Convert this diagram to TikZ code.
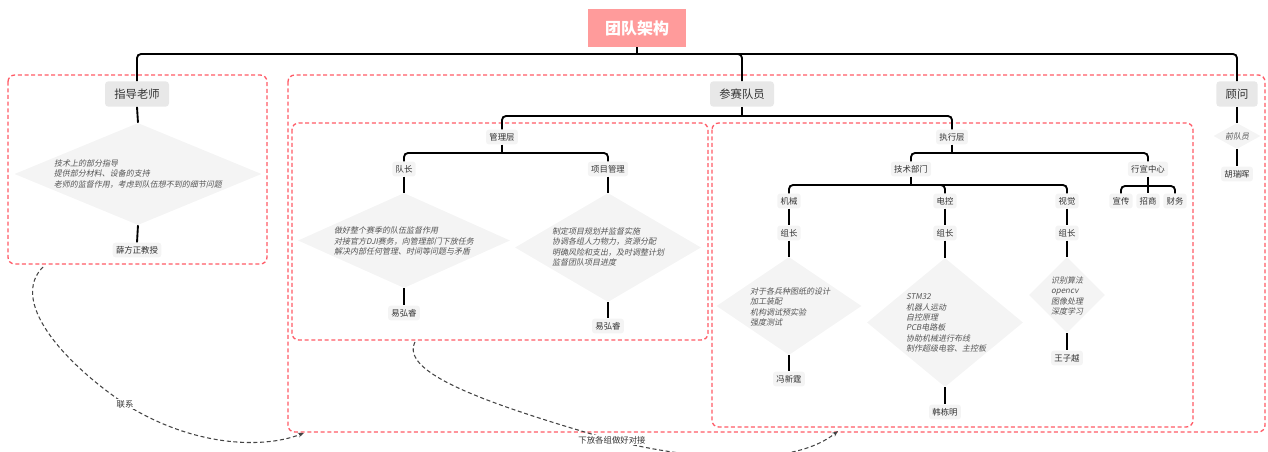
\documentclass[tikz,border=0pt]{standalone}
\usepackage{fontspec}
\setmainfont{Noto Sans CJK SC}
\newfontfamily\cjkit[FakeSlant=0.2]{Noto Sans CJK SC}
\usetikzlibrary{shapes.geometric,arrows.meta}
\definecolor{rootfill}{HTML}{FF9B9B}
\definecolor{headfill}{HTML}{E8E8E8}
\definecolor{lblfill}{HTML}{F4F4F4}
\definecolor{diafill}{HTML}{F4F4F4}
\definecolor{textc}{HTML}{333333}
\definecolor{dtextc}{HTML}{555555}
\definecolor{grpred}{HTML}{FF5A66}
\definecolor{linkc}{HTML}{444444}
\begin{document}
\begin{tikzpicture}[x=0.75pt,y=-0.75pt,
  rootbox/.style={fill=rootfill, text=white, minimum width=73.5pt, minimum height=28.5pt, inner sep=0pt, font=\fontsize{12}{14}\selectfont\bfseries},
  head/.style={fill=headfill, rounded corners=2.5pt, minimum height=19pt, inner xsep=7pt, inner ysep=0pt, text=textc, font=\fontsize{8.5}{10}\selectfont},
  lbl/.style={fill=lblfill, rounded corners=2pt, minimum height=11pt, inner xsep=2.5pt, inner ysep=0pt, text=textc, font=\fontsize{6.3}{7}\selectfont},
  dia/.style={diamond, fill=diafill, inner sep=0pt},
  dtxt/.style={align=left, inner sep=0pt, text=dtextc, font=\cjkit\fontsize{6}{7.8}\selectfont},
  tree/.style={line width=1.4pt, draw=black, rounded corners=3pt},
  grp/.style={draw=grpred, line width=1pt, dash pattern=on 3pt off 2pt, rounded corners=5pt},
  link/.style={draw=linkc, line width=0.8pt, dash pattern=on 3pt off 2pt, -{Stealth[length=4.5pt,width=3.5pt]}},
  elbl/.style={fill=white, inner sep=1pt, text=textc, font=\fontsize{6.3}{7}\selectfont}
]
\useasboundingbox (0,0) rectangle (1268,452);

% group frames
\draw[grp] (8,75) rectangle (267,264);
\draw[grp] (288,75) rectangle (1265,432);
\draw[grp] (292,123) rectangle (708,340);
\draw[grp] (712,123) rectangle (1193,427);

% top level
\node[rootbox] (root) at (637,28) {团队架构};
\node[head] (t1) at (137,94) {指导老师};
\node[head] (t2) at (742,94) {参赛队员};
\node[head] (t3) at (1237,94) {顾问};

% teacher branch
\node[dia, minimum width=185.25pt, minimum height=76.5pt] (d1) at (138,174) {};
\node[dtxt] (d1t) at (138,174) {技术上的部分指导\\提供部分材料、设备的支持\\老师的监督作用，考虑到队伍想不到的细节问题};
\node[lbl] (n1) at (137,250) {薛方正教授};

% advisor branch
\node[dia, minimum width=35.25pt, minimum height=19.5pt] (dadv) at (1237,136) {};
\node[dtxt] (dadvt) at (1237,136) {前队员};
\node[lbl] (nadv) at (1237,174) {胡瑞晖};

% management
\node[lbl] (mg) at (502,137) {管理层};
\node[lbl] (cap) at (404,169) {队长};
\node[lbl] (pm) at (608,169) {项目管理};
\node[dia, minimum width=159pt, minimum height=71.25pt] (dcap) at (404,240.5) {};
\node[dtxt] (dcapt) at (404,241) {做好整个赛季的队伍监督作用\\对接官方DJI赛务，向管理部门下放任务\\解决内部任何管理、时间等问题与矛盾};
\node[lbl] (ncap) at (404,313) {易弘睿};
\node[dia, minimum width=139.5pt, minimum height=81.75pt] (dpm) at (608,247.5) {};
\node[dtxt] (dpmt) at (608,247) {制定项目规划并监督实施\\协调各组人力物力，资源分配\\明确风险和支出，及时调整计划\\监督团队项目进度};
\node[lbl] (npm) at (608,326) {易弘睿};

% execution
\node[lbl] (ex) at (952,137) {执行层};
\node[lbl] (tech) at (911,169) {技术部门};
\node[lbl] (xc) at (1148,169) {行宣中心};
\node[lbl] (mech) at (789,201) {机械};
\node[lbl] (elec) at (945,201) {电控};
\node[lbl] (vis) at (1067,201) {视觉};
\node[lbl] (xc1) at (1121,201) {宣传};
\node[lbl] (xc2) at (1148,201) {招商};
\node[lbl] (xc3) at (1175,201) {财务};
\node[lbl] (mz) at (789,233) {组长};
\node[lbl] (ez) at (945,233) {组长};
\node[lbl] (vz) at (1067,233) {组长};
\node[dia, minimum width=108.75pt, minimum height=73.5pt] (dm) at (789,306) {};
\node[dtxt] (dmt) at (790,307) {对于各兵种图纸的设计\\加工装配\\机构调试预实验\\强度测试};
\node[lbl] (nm) at (789,379) {冯新霆};
\node[dia, minimum width=117pt, minimum height=96.75pt] (de) at (945,322.5) {};
\node[dtxt] (det) at (946,323) {STM32\\机器人运动\\自控原理\\PCB电路板\\协助机械进行布线\\制作超级电容、主控板};
\node[lbl] (ne) at (945,412) {韩栋明};
\node[dia, minimum width=57pt, minimum height=57pt] (dv) at (1067,295) {};
\node[dtxt] (dvt) at (1067,296) {识别算法\\opencv\\图像处理\\深度学习};
\node[lbl] (nv) at (1067,358) {王子越};

% tree connectors
\coordinate (b0) at (637,54);
\draw[tree] (root.south) -- (b0);
\draw[tree] (b0) -| (t1.north);
\draw[tree] (b0) -| (t2.north);
\draw[tree] (b0) -| (t3.north);
\draw[tree] (t1.south) -- (d1.north);
\draw[tree] (d1.south) -- (n1.north);
\draw[tree] (t3.south) -- (dadv.north);
\draw[tree] (dadv.south) -- (nadv.north);

\coordinate (b1) at (742,116);
\draw[tree] (t2.south) -- (b1);
\draw[tree] (b1) -| (mg.north);
\draw[tree] (b1) -| (ex.north);

\coordinate (b2) at (502,153);
\draw[tree] (mg.south) -- (b2);
\draw[tree] (b2) -| (cap.north);
\draw[tree] (b2) -| (pm.north);
\draw[tree] (cap.south) -- (dcap.north);
\draw[tree] (dcap.south) -- (ncap.north);
\draw[tree] (pm.south) -- (dpm.north);
\draw[tree] (dpm.south) -- (npm.north);

\coordinate (b3) at (952,153);
\draw[tree] (ex.south) -- (b3);
\draw[tree] (b3) -| (tech.north);
\draw[tree] (b3) -| (xc.north);

\coordinate (b4) at (911,185);
\draw[tree] (tech.south) -- (b4);
\draw[tree] (b4) -| (mech.north);
\draw[tree] (b4) -| (elec.north);
\draw[tree] (b4) -| (vis.north);

\coordinate (b5) at (1148,186);
\draw[tree] (xc.south) -- (xc2.north);
\draw[tree] (b5) -| (xc1.north);
\draw[tree] (b5) -| (xc3.north);

\draw[tree] (mech.south) -- (mz.north);
\draw[tree] (mz.south) -- (dm.north);
\draw[tree] (dm.south) -- (nm.north);
\draw[tree] (elec.south) -- (ez.north);
\draw[tree] (ez.south) -- (de.north);
\draw[tree] (de.south) -- (ne.north);
\draw[tree] (vis.south) -- (vz.north);
\draw[tree] (vz.south) -- (dv.north);
\draw[tree] (dv.south) -- (nv.north);

% links
\coordinate (c1s) at (43,267);
\coordinate (c1m) at (125,404);
\coordinate (c1e) at (304,433);
\draw[link] (c1s) .. controls (10,300) and (60,360) .. (c1m) .. controls (190,445) and (260,450) .. (c1e);
\node[elbl] (l1) at (c1m) {联系};

\coordinate (c2s) at (415,342);
\coordinate (c2m) at (612,440);
\coordinate (c2e) at (838,431);
\draw[link] (c2s) .. controls (400,372) and (480,402) .. (c2m) .. controls (700,462) and (795,466) .. (c2e);
\node[elbl] (l2) at (c2m) {下放各组做好对接};
\end{tikzpicture}
\end{document}
